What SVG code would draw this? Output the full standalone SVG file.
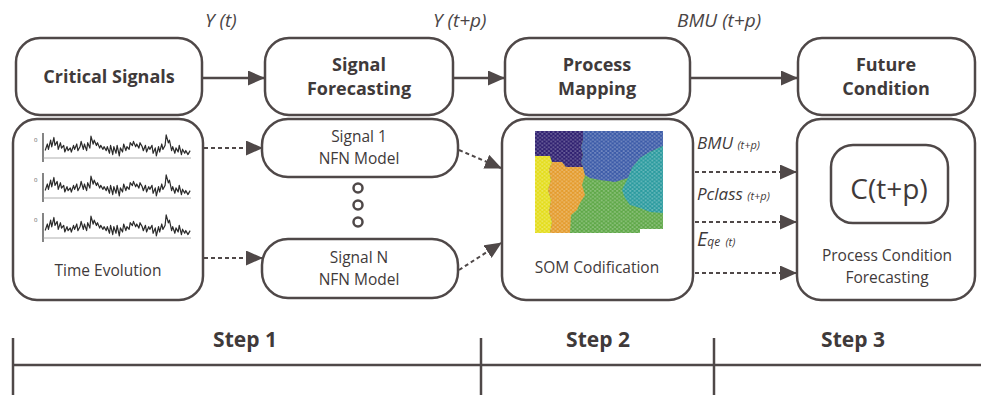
<svg xmlns="http://www.w3.org/2000/svg" width="981" height="398" viewBox="0 0 981 398">
<style>
.box{fill:#fff;stroke:#4f4848;stroke-width:2.5}
.t{font-family:"Open Sans","Liberation Sans",sans-serif;fill:#3f3a3a;text-anchor:middle}
.b{font-weight:bold;font-size:18px}
.r{font-size:15.5px}
.lab{font-family:"Open Sans","Liberation Sans",sans-serif;font-style:italic;fill:#4a4545;font-size:19px}
.sl{font-family:"Open Sans","Liberation Sans",sans-serif;font-style:italic;fill:#3f3a3a}
.ln{stroke:#4f4848;stroke-width:2.5;fill:none}
.dash{stroke:#4f4848;stroke-width:2;fill:none;stroke-dasharray:4 3}
.sig{stroke:#2b2b2b;stroke-width:1.1;fill:none;stroke-linejoin:round}
</style>
<defs>
<marker id="ah" markerUnits="userSpaceOnUse" markerWidth="17" markerHeight="15" refX="16" refY="7.5" orient="auto">
<path d="M0,0 L17,7.5 L0,15 Z" fill="#4f4848"/>
</marker>
<pattern id="hex" patternUnits="userSpaceOnUse" width="4.4" height="3.8">
<circle cx="1.1" cy="0.95" r="1.05" fill="#fff" fill-opacity="0.28"/>
<circle cx="3.3" cy="2.85" r="1.05" fill="#fff" fill-opacity="0.28"/>
</pattern>
<clipPath id="mapclip"><rect x="535" y="131" width="128" height="102"/></clipPath>
<g id="plot">
<line x1="0" y1="-15" x2="0" y2="14" stroke="#333" stroke-width="1.2"/>
<line x1="0" y1="10" x2="148" y2="10" stroke="#999" stroke-width="0.8"/>
<text x="-9" y="-6" font-family="Open Sans, sans-serif" font-size="6" fill="#555">0</text>
<path class="sig" transform="scale(1.09,1.3)" d="M2,2 L4,-3 L5,1 L7,-6 L8,-1 L10,-8 L11,-2 L13,-5 L14,1 L16,-4 L17,0 L19,-2 L20,3 L22,-1 L23,2 L25,0 L26,3 L28,-2 L29,1 L31,-3 L32,2 L34,-1 L35,-5 L37,1 L38,-3 L40,2 L41,-4 L43,0 L44,-9 L46,-3 L47,-6 L49,-2 L50,-4 L52,0 L53,-2 L55,1 L56,-1 L58,2 L59,-1 L61,4 L62,-2 L64,5 L65,-1 L67,4 L68,-2 L70,6 L71,0 L73,3 L74,-3 L76,2 L77,-1 L79,1 L80,-4 L82,-2 L83,-5 L85,-1 L86,-3 L88,0 L89,-4 L91,-1 L92,2 L94,-2 L95,3 L97,-1 L98,1 L100,-2 L101,4 L103,0 L104,6 L106,-1 L107,3 L109,-3 L110,1 L112,-2 L113,-10 L115,-4 L116,-6 L118,2 L119,-1 L121,4 L122,0 L124,3 L125,-2 L127,5 L128,1 L130,4 L131,2 L133,5 L135,2"/>
</g>
</defs>

<!-- edge labels -->
<g id="labels">
<text class="lab" x="205" y="27">Y (t)</text>
<text class="lab" x="433" y="27">Y (t+p)</text>
<text class="lab" x="677" y="27">BMU (t+p)</text>
</g>

<!-- top row -->
<g id="critical-signals">
<rect class="box" x="16" y="38" width="186" height="77" rx="24"/>
<text class="t b" x="109" y="83" font-size="19">Critical Signals</text>
</g>
<g id="signal-forecasting">
<rect class="box" x="265" y="38" width="188" height="77" rx="24"/>
<text class="t b" x="359" y="71">Signal</text>
<text class="t b" x="359" y="95">Forecasting</text>
</g>
<g id="process-mapping">
<rect class="box" x="505" y="38" width="185" height="77" rx="24"/>
<text class="t b" x="597" y="71">Process</text>
<text class="t b" x="597" y="95">Mapping</text>
</g>
<g id="future-condition">
<rect class="box" x="798" y="38" width="177" height="77" rx="24"/>
<text class="t b" x="886" y="71">Future</text>
<text class="t b" x="886" y="95">Condition</text>
</g>

<!-- bottom row -->
<g id="time-evolution">
<rect class="box" x="13" y="119" width="190" height="181" rx="24"/>
<use href="#plot" transform="translate(43,148)"/>
<use href="#plot" transform="translate(43,188)"/>
<use href="#plot" transform="translate(43,228)"/>
<text class="t r" x="108" y="276">Time Evolution</text>
</g>
<g id="signal-1">
<rect class="box" x="262" y="119" width="196" height="58" rx="26"/>
<text class="t r" x="359" y="142">Signal 1</text>
<text class="t r" x="359" y="164">NFN Model</text>
</g>
<g id="dots">
<circle cx="358" cy="188" r="4.5" class="ln" stroke-width="2.2"/>
<circle cx="358" cy="205" r="4.5" class="ln" stroke-width="2.2"/>
<circle cx="358" cy="222" r="4.5" class="ln" stroke-width="2.2"/>
</g>
<g id="signal-n">
<rect class="box" x="262" y="239" width="196" height="59" rx="26"/>
<text class="t r" x="359" y="263">Signal N</text>
<text class="t r" x="359" y="285">NFN Model</text>
</g>
<g id="som">
<rect class="box" x="502" y="119" width="191" height="181" rx="24"/>
<g clip-path="url(#mapclip)">
<rect x="535" y="131" width="128" height="102" fill="#5fa848"/>
<polygon fill="#e4dd1c" points="535,156 550,156 552,162 549,170 551,180 548,190 551,200 549,212 552,222 550,233 535,233"/>
<polygon fill="#e49c2e" points="552,162 562,162 566,167 583,167 585,175 582,185 585,195 580,203 577,210 571,215 570,233 550,233 552,222 549,212 551,200 548,190 551,180 549,170"/>
<polygon fill="#3c5ba8" points="583,131 663,131 663,146 650,152 640,158 632,168 628,178 615,182 600,180 590,178 585,175 583,167 581,162 583,155 581,147 583,140"/>
<polygon fill="#2b9b9f" points="663,146 663,213 650,212 640,208 630,205 625,198 622,190 626,182 628,178 632,168 640,158 650,152"/>
<polygon fill="#2f2070" points="535,131 583,131 583,140 581,147 583,155 581,162 583,167 566,167 562,162 552,162 550,156 535,156"/>
<rect x="640" y="229" width="23" height="4" fill="#fff"/>
<rect x="535" y="131" width="128" height="102" fill="url(#hex)"/>
</g>
<text class="t r" x="597" y="273">SOM Codification</text>
</g>
<g id="process-condition-forecasting">
<rect class="box" x="797" y="119" width="178" height="181" rx="24"/>
<rect class="box" x="831" y="145" width="117" height="78" rx="22" stroke-width="2"/>
<text class="t" x="889" y="199" font-size="28">C(t+p)</text>
<text class="t r" x="887" y="261">Process Condition</text>
<text class="t r" x="887" y="283">Forecasting</text>
</g>

<!-- connectors -->
<g id="connectors">
<line class="ln" x1="202" y1="78" x2="264" y2="78" marker-end="url(#ah)"/>
<line class="ln" x1="453" y1="78" x2="504" y2="78" marker-end="url(#ah)"/>
<line class="ln" x1="690" y1="78" x2="797" y2="78" marker-end="url(#ah)"/>
<line class="dash" x1="204" y1="148" x2="262" y2="148" marker-end="url(#ah)"/>
<line class="dash" x1="204" y1="258" x2="262" y2="258" marker-end="url(#ah)"/>
<line class="dash" x1="459" y1="150" x2="501" y2="168" marker-end="url(#ah)"/>
<line class="dash" x1="459" y1="270" x2="501" y2="243" marker-end="url(#ah)"/>
<line class="dash" x1="695" y1="172" x2="796" y2="172" marker-end="url(#ah)"/>
<line class="dash" x1="695" y1="222" x2="796" y2="222" marker-end="url(#ah)"/>
<line class="dash" x1="695" y1="273" x2="796" y2="273" marker-end="url(#ah)"/>
</g>
<g id="connector-labels">
<text class="sl" x="697" y="149" font-size="17">BMU <tspan font-size="11">(t+p)</tspan></text>
<text class="sl" x="697" y="200" font-size="17">Pclass <tspan font-size="11">(t+p)</tspan></text>
<text class="sl" x="697" y="246" font-size="20">E<tspan font-size="12">qe</tspan> <tspan font-size="11">(t)</tspan></text>
</g>

<!-- timeline -->
<g id="timeline">
<line class="ln" x1="13" y1="365" x2="981" y2="365"/>
<line class="ln" x1="13" y1="338" x2="13" y2="395" stroke-width="2"/>
<line class="ln" x1="481" y1="338" x2="481" y2="395" stroke-width="2"/>
<line class="ln" x1="714" y1="338" x2="714" y2="395" stroke-width="2"/>
<text class="t" x="245" y="347" font-weight="bold" font-size="21">Step 1</text>
<text class="t" x="598" y="347" font-weight="bold" font-size="21">Step 2</text>
<text class="t" x="853" y="347" font-weight="bold" font-size="21">Step 3</text>
</g>
</svg>
